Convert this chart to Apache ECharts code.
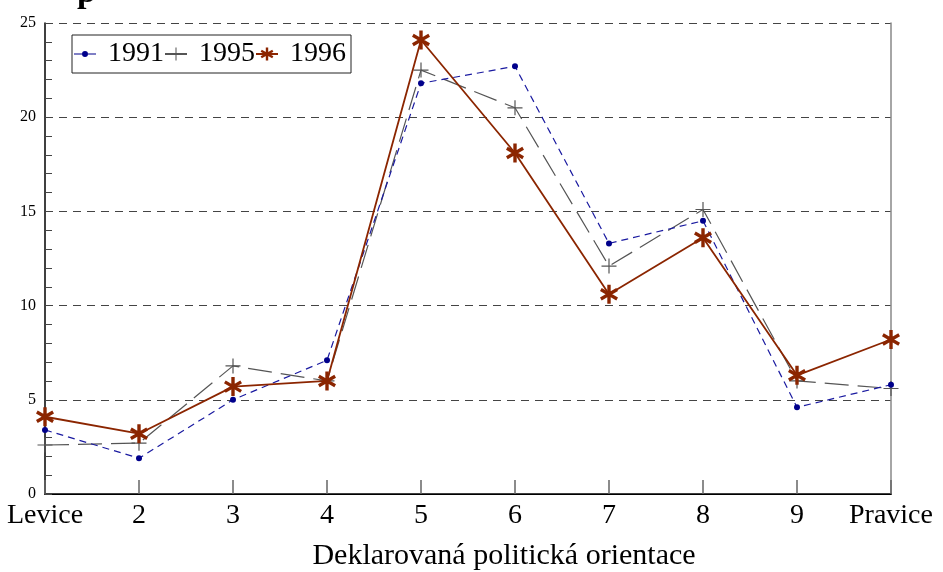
<!DOCTYPE html>
<html>
<head>
<meta charset="utf-8">
<script src="https://cdn.jsdelivr.net/npm/echarts@6/dist/echarts.min.js"></script>
<style>
  html, body { margin: 0; padding: 0; background: #fff; }
  #chart { width: 943px; height: 572px; }
</style>
</head>
<body>
<div id="chart"></div>
<script>
// data
const categories = ['Levice', '2', '3', '4', '5', '6', '7', '8', '9', 'Pravice'];
const yTicks = [0, 5, 10, 15, 20, 25];
const s1991 = [3.4, 1.9, 5.0, 7.1, 21.8, 22.7, 13.3, 14.5, 4.6, 5.8];
const s1995 = [2.6, 2.7, 6.8, 6.0, 22.5, 20.5, 12.1, 15.1, 6.0, 5.6];
const s1996 = [4.1, 3.2, 5.7, 6.0, 24.1, 18.1, 10.6, 13.6, 6.3, 8.2];

const serif = 'Liberation Serif, Times New Roman, serif';

// asterisk marker: three bars crossed
function starPath() {
  const L = 10, w = 1.8;
  let d = '';
  [90, 30, 150].forEach(function (deg) {
    const a = deg * Math.PI / 180;
    const ca = Math.cos(a), sa = Math.sin(a);
    const pts = [[-w, -L], [w, -L], [w, L], [-w, L]].map(function (p) {
      const x = p[1] * ca - p[0] * sa;
      const y = p[1] * sa + p[0] * ca;
      return x.toFixed(3) + ',' + y.toFixed(3);
    });
    d += 'M' + pts[0] + ' L' + pts[1] + ' L' + pts[2] + ' L' + pts[3] + ' Z ';
  });
  return 'path://' + d;
}
const plusPath = 'path://M-0.8,-10 L0.8,-10 L0.8,-0.8 L10,-0.8 L10,0.8 L0.8,0.8 L0.8,10 L-0.8,10 L-0.8,0.8 L-10,0.8 L-10,-0.8 L-0.8,-0.8 Z';
// legend icon for 1991: short line with a small dot (corner points only widen the box)
const dotLine = 'path://M-11,-8 L-11,-8 Z M11,8 L11,8 Z ' +
  'M-11,-0.5 L-3,-0.5 L-3,0.5 L-11,0.5 Z M3,-0.5 L11,-0.5 L11,0.5 L3,0.5 Z ' +
  'M-3,0 A3,3 0 1,1 3,0 A3,3 0 1,1 -3,0 Z';

const chart = echarts.init(document.getElementById('chart'));
const option = {
  animation: false,
  backgroundColor: '#fff',
  textStyle: { fontFamily: serif },
  title: {
    text: 'p',
    left: 72,
    top: -29,
    textStyle: { fontFamily: serif, fontSize: 34, fontWeight: 'bold', color: '#000' }
  },
  legend: {
    left: 72,
    top: 35,
    padding: [5, 5, 5, 2],
    itemGap: 0,
    itemWidth: 22,
    itemHeight: 16,
    borderColor: '#222',
    borderWidth: 1,
    formatter: ' {name}',
    textStyle: { fontFamily: serif, fontSize: 28, color: '#000' },
    data: [{ name: '1991', icon: dotLine }, '1995', '1996']
  },
  grid: { left: 45, right: 52, top: 23, bottom: 78 },
  xAxis: [{
    type: 'category',
    data: categories,
    boundaryGap: false,
    axisLine: { lineStyle: { color: '#000', width: 1.5 } },
    axisTick: { show: true, inside: true, interval: 0, length: 14, alignWithLabel: true, lineStyle: { color: '#666', width: 1.5 } },
    axisLabel: { interval: 0, fontFamily: serif, fontSize: 28, color: '#000', margin: 8 },
    splitLine: { show: false }
  }, {
    type: 'category',
    data: categories,
    position: 'top',
    boundaryGap: false,
    axisLine: { lineStyle: { color: '#000', width: 1.2 } },
    axisTick: { show: false },
    axisLabel: { show: false }
  }],
  yAxis: [{
    type: 'value',
    min: yTicks[0],
    max: yTicks[yTicks.length - 1],
    interval: 5,
    axisLine: { show: true, lineStyle: { color: '#000', width: 1.5 } },
    axisTick: { show: true, inside: true, length: 7, lineStyle: { color: '#444' } },
    minorTick: { show: true, splitNumber: 5, length: 7, lineStyle: { color: '#444' } },
    axisLabel: { fontFamily: serif, fontSize: 16, color: '#000', margin: 9 },
    splitLine: { show: true, lineStyle: { color: '#444', type: [8, 6], width: 1 } }
  }, {
    type: 'value',
    min: 0,
    max: 25,
    interval: 5,
    position: 'right',
    axisLine: { show: true, lineStyle: { color: '#888', width: 1.5 } },
    axisTick: { show: false },
    axisLabel: { show: false },
    splitLine: { show: false }
  }],
  graphic: [{
    type: 'text',
    x: 504,
    y: 556,
    style: {
      text: 'Deklarovaná politická orientace',
      fontFamily: serif,
      fontSize: 30,
      fill: '#000',
      textAlign: 'center',
      textVerticalAlign: 'middle'
    }
  }],
  series: [{
    name: '1995',
    type: 'line',
    data: s1995,
    symbol: plusPath,
    symbolSize: 15,
    itemStyle: { color: '#555' },
    lineStyle: { color: '#555', width: 1.2, type: [24, 9] },
    z: 2
  }, {
    name: '1991',
    type: 'line',
    data: s1991,
    symbol: 'circle',
    symbolSize: 6,
    itemStyle: { color: '#00008b' },
    lineStyle: { color: '#1a1aa0', width: 1.2, type: [7, 5] },
    z: 3
  }, {
    name: '1996',
    type: 'line',
    data: s1996,
    symbol: starPath(),
    symbolSize: [18, 19],
    itemStyle: { color: '#8b2500' },
    lineStyle: { color: '#8b2500', width: 1.8, type: 'solid' },
    z: 4
  }]
};
chart.setOption(option);
</script>
</body>
</html>
